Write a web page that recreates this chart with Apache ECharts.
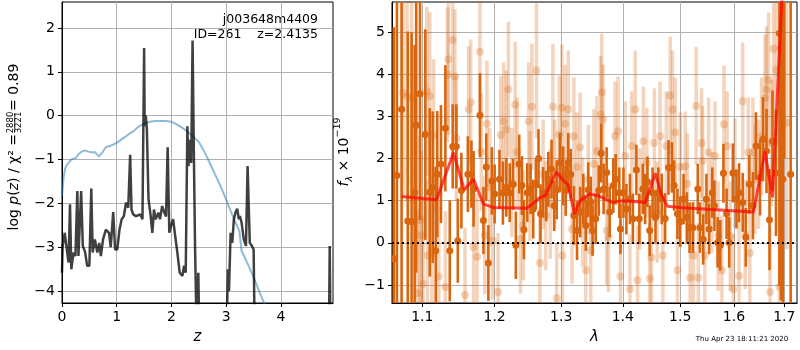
<!DOCTYPE html>
<html>
<head>
<meta charset="utf-8">
<script src="https://cdn.jsdelivr.net/npm/echarts@6/dist/echarts.min.js"></script>
<style>
html, body { margin: 0; padding: 0; background: #fff; }
#main { width: 800px; height: 350px; }
</style>
</head>
<body>
<div id="main"></div>
<script>
// left panel: redshift probability (black) and chi2 curve (blue)
var zBlack = [0.00,0.01,0.05,0.08,0.12,0.146,0.17,0.21,0.245,0.28,0.30,0.35,0.38,0.42,0.46,0.50,0.535,0.56,0.60,0.645,0.68,0.71,0.75,0.80,0.86,0.89,0.935,0.97,1.01,1.05,1.09,1.13,1.17,1.21,1.245,1.27,1.30,1.35,1.39,1.43,1.47,1.50,1.51,1.53,1.55,1.58,1.62,1.65,1.68,1.71,1.76,1.79,1.83,1.87,1.90,1.93,1.96,1.99,2.03,2.06,2.10,2.15,2.20,2.23,2.26,2.29,2.31,2.34,2.36,2.385,2.41,2.43,2.46,2.49,2.52,2.99,3.03,3.05,3.08,3.11,3.14,3.17,3.20,3.23,3.25,3.28,3.32,3.36,3.39,3.43,3.47,3.50,3.53,4.87,4.89,4.91];
var pBlack = [-3.58,-3.0,-2.67,-2.97,-3.35,-2.02,-3.5,-3.12,-3.2,-1.72,-3.2,-1.72,-2.97,-3.1,-3.42,-3.42,-1.66,-3.12,-2.82,-3.12,-2.9,-3.2,-2.82,-2.6,-2.67,-3.0,-2.2,-3.05,-3.05,-2.6,-2.36,-2.29,-1.98,-2.1,-0.89,-2.14,-2.25,-2.29,-2.27,-2.25,-2.36,1.54,-0.24,0.0,-0.3,-1.9,-2.29,-2.67,-2.14,-2.36,-2.21,-2.36,-2.06,-2.21,-2.3,-0.72,-2.67,-2.52,-2.36,-2.67,-3.05,-3.58,-3.65,-3.42,-3.58,-0.24,-1.15,-0.55,-1.08,1.71,-1.0,-2.97,-5.0,-3.58,-6.0,-6.0,-3.5,-4.0,-2.67,-2.9,-2.36,-2.2,-2.12,-2.36,-2.29,-2.44,-2.82,-2.97,-1.15,-2.9,-2.97,-3.05,-6.0,-6.0,-2.97,-6.0];
var zBlue = [0.00,0.03,0.06,0.09,0.15,0.20,0.25,0.30,0.36,0.42,0.48,0.55,0.60,0.67,0.73,0.80,0.90,1.00,1.10,1.20,1.30,1.40,1.50,1.60,1.70,1.80,1.90,2.00,2.10,2.20,2.30,2.40,2.50,2.60,2.70,2.80,2.90,3.00,3.07,3.15,3.24,3.28,3.40,3.49,3.61,3.72];
var pBlue = [-1.83,-1.4,-1.2,-1.12,-1.03,-0.98,-0.97,-0.88,-0.82,-0.79,-0.82,-0.84,-0.83,-0.93,-0.85,-0.72,-0.68,-0.62,-0.53,-0.44,-0.36,-0.25,-0.18,-0.14,-0.12,-0.12,-0.12,-0.14,-0.2,-0.28,-0.37,-0.48,-0.6,-0.82,-1.08,-1.35,-1.62,-1.92,-2.14,-2.38,-2.63,-3.08,-3.4,-3.65,-4.03,-4.35];
var zTicks = [0, 1, 2, 3, 4];
var pTicks = [-4, -3, -2, -1, 0, 1, 2];

// right panel: spectrum points [lambda, flux, error]
var darkPts = [
 [1.063,-0.38,5.5],[1.067,1.6,6],[1.073,3.17,5],[1.081,0.52,4.5],[1.086,0.5,4.5],[1.090,1.2,3.5],[1.092,2.79,3.5],
 [1.097,3.54,3],[1.104,2.57,2.5],[1.110,1.2,2.0],[1.114,1.32,1.8],[1.118,-0.19,2.0],[1.120,1.63,1.5],[1.125,1.87,1.4],
 [1.131,2.72,1.5],[1.137,-0.19,1.2],[1.141,2.29,1.0],[1.146,2.29,1.0],[1.148,0.05,1.0],[1.153,1.24,0.9],[1.162,1.63,0.9],
 [1.167,1.63,0.8],[1.170,1.28,0.9],[1.179,3.03,1.0],[1.184,0.53,0.8],[1.188,1.8,0.8],[1.191,-0.48,0.9],[1.196,1.47,0.8],
 [1.200,1.16,0.7],[1.207,1.51,0.7],[1.212,1.18,0.75],[1.217,1.32,0.7],[1.222,1.19,0.7],[1.227,1.39,0.6],[1.231,-0.06,0.8],
 [1.236,1.87,0.7],[1.240,1.36,0.7],[1.243,0.31,0.7],[1.248,1.19,0.7],[1.253,1.28,0.6],[1.257,0.8,0.7],[1.261,1.39,0.6],
 [1.265,2.0,0.7],[1.268,0.69,0.7],[1.272,1.2,0.6],[1.277,1.11,0.6],[1.280,1.51,0.65],[1.285,1.75,0.7],[1.289,0.88,0.6],
 [1.293,1.26,0.7],[1.298,1.91,0.7],[1.303,1.59,0.7],[1.307,1.24,0.6],[1.311,1.91,0.7],[1.315,1.63,0.6],[1.320,0.65,0.7],
 [1.325,0.29,0.7],[1.330,0.73,0.6],[1.335,1.04,0.6],[1.339,0.41,0.6],[1.343,1.26,0.65],[1.347,0.97,0.6],[1.350,0.29,0.6],
 [1.355,0.57,0.6],[1.360,1.24,0.6],[1.364,2.13,0.7],[1.368,1.28,0.6],[1.373,1.67,0.6],[1.378,0.73,0.6],[1.384,1.36,0.65],
 [1.388,1.51,0.6],[1.394,1.19,0.6],[1.396,0.33,0.6],[1.401,1.19,0.6],[1.406,0.8,0.6],[1.412,1.04,0.6],[1.417,0.57,0.6],
 [1.423,1.73,0.6],[1.428,0.57,0.6],[1.434,1.28,0.6],[1.438,1.04,0.6],[1.442,1.45,0.6],[1.446,0.29,0.6],[1.451,1.19,0.6],
 [1.456,0.6,0.6],[1.461,1.19,0.6],[1.467,1.04,0.6],[1.473,0.58,0.6],[1.479,1.79,0.65],[1.485,1.79,0.6],[1.489,1.36,0.6],
 [1.495,0.69,0.6],[1.500,0.5,0.6],[1.506,1.04,0.6],[1.512,0.6,0.6],[1.517,0.36,0.6],[1.523,0.36,0.6],[1.532,1.28,0.6],
 [1.536,0.36,0.6],[1.542,0.08,0.6],[1.548,1.04,0.6],[1.553,0.33,0.6],[1.559,1.19,0.6],[1.563,0.88,0.6],[1.569,0.01,0.6],
 [1.574,-0.06,0.6],[1.580,1.65,0.7],[1.586,0.69,0.6],[1.591,0.01,0.6],[1.598,1.66,0.7],[1.605,1.04,0.7],[1.610,1.19,0.7],
 [1.617,0.96,0.7],[1.623,0.13,0.7],[1.630,1.39,0.7],[1.637,0.88,0.8],[1.643,2.3,0.8],[1.651,1.55,0.9],[1.657,2.46,1.0],
 [1.664,2.18,1.0],[1.670,0.55,1.2],[1.676,2.42,1.2],[1.683,1.66,1.5],[1.690,4.98,6],[1.693,4.63,6],[1.697,1.51,6],
 [1.700,8.0,6],[1.713,1.63,6]
];
var lightPts = [
 [1.075,3.56,2.5],[1.080,3.48,2.5],[1.086,3.42,2.5],[1.094,-1.2,2],[1.097,0.54,2],[1.099,0.18,2],[1.101,-0.97,2],
 [1.106,3.6,2],[1.107,-0.3,1.8],[1.110,3.48,2],[1.113,-0.22,1.8],[1.115,2.56,1.8],[1.122,-0.8,1.8],[1.131,-1.05,1.8],
 [1.135,4.36,1.8],[1.134,3.99,1.6],[1.141,4.82,1.8],[1.144,3.95,1.6],[1.146,2.48,1.5],[1.158,-1.24,1.6],[1.163,3.17,1.5],
 [1.166,3.33,1.5],[1.170,-0.1,1.5],[1.175,-0.33,1.5],[1.179,4.54,1.6],[1.181,2.16,1.4],[1.186,0.18,1.4],[1.189,2.83,1.5],
 [1.193,1.32,1.4],[1.197,0.05,1.4],[1.205,-1.17,1.4],[1.209,2.56,1.4],[1.213,2.89,1.4],[1.217,2.69,1.4],[1.220,3.65,1.6],
 [1.225,1.43,1.3],[1.230,3.28,1.5],[1.233,2.15,1.3],[1.238,0.09,1.3],[1.242,0.41,1.3],[1.250,2.89,1.4],[1.252,1.35,1.3],
 [1.255,3.23,1.5],[1.262,4.09,1.6],[1.267,-0.48,1.3],[1.272,1.63,1.3],[1.276,0.65,1.3],[1.283,0.92,1.3],[1.287,3.23,1.5],
 [1.290,1.63,1.3],[1.293,-1.32,1.3],[1.297,2.57,1.4],[1.301,3.21,1.5],[1.302,-0.3,1.2],[1.306,2.83,1.4],[1.311,3.17,1.4],
 [1.317,0.33,1.3],[1.320,2.53,1.4],[1.325,1.8,1.3],[1.330,2.27,1.3],[1.334,0.73,1.3],[1.339,-0.65,1.3],[1.343,1.5,1.3],
 [1.347,-0.18,1.3],[1.352,1.87,1.3],[1.357,2.18,1.3],[1.363,3.04,1.4],[1.365,3.57,1.4],[1.367,2.93,1.3],[1.373,0.29,1.3],
 [1.376,0.13,1.3],[1.387,2.53,1.3],[1.392,2.65,1.3],[1.396,-0.8,1.3],[1.404,2.06,1.3],[1.412,-1.1,1.3],[1.415,2.3,1.3],
 [1.421,3.17,1.4],[1.425,-0.89,1.3],[1.429,1.04,1.2],[1.435,2.41,1.3],[1.441,1.9,1.3],[1.446,-0.85,1.3],[1.449,-0.35,1.3],
 [1.454,2.37,1.3],[1.459,0.73,1.2],[1.464,2.53,1.3],[1.469,-0.3,1.3],[1.475,2.3,1.3],[1.482,3.5,1.4],[1.486,3.17,1.4],
 [1.491,2.62,1.3],[1.495,-0.65,1.3],[1.500,1.8,1.3],[1.509,1.82,1.3],[1.513,1.4,1.2],[1.518,-0.83,1.3],[1.524,-0.3,1.3],
 [1.529,3.25,1.4],[1.533,-0.83,1.3],[1.539,2.37,1.3],[1.541,1.95,1.3],[1.545,-0.3,1.3],[1.552,2.15,1.3],[1.558,0.95,1.2],
 [1.564,2.06,1.3],[1.570,0.16,1.3],[1.577,-0.65,1.3],[1.581,2.81,1.4],[1.587,2.3,1.3],[1.593,0.16,1.3],[1.599,-1.1,1.3],
 [1.602,1.66,1.3],[1.610,-0.78,1.3],[1.617,3.36,1.4],[1.622,0.2,1.3],[1.628,2.15,1.3],[1.631,-0.24,1.3],[1.637,2.15,1.3],
 [1.641,1.51,1.3],[1.648,1.63,1.3],[1.654,2.53,1.4],[1.661,3.44,1.5],[1.664,3.64,1.5],[1.668,3.87,1.6],[1.671,-1.17,1.5],
 [1.674,2.37,1.5],[1.678,4.61,1.8],[1.684,4.11,1.8],[1.690,-1.05,2],[1.705,2.85,3]
];
// best-fit model [lambda, flux]
var modelPts = [
 [1.073,1.10],[1.119,1.02],[1.142,2.14],[1.157,1.26],[1.170,1.51],[1.184,0.92],[1.198,0.84],[1.247,0.82],[1.256,0.92],
 [1.267,1.07],[1.276,1.13],[1.292,1.68],[1.304,1.47],[1.311,1.37],[1.321,0.69],[1.330,1.0],[1.345,1.16],[1.359,1.12],
 [1.382,0.96],[1.399,1.0],[1.420,0.98],[1.438,0.96],[1.456,1.65],[1.466,1.16],[1.477,0.87],[1.504,0.83],[1.638,0.73],
 [1.661,2.17],[1.676,1.08],[1.700,7.0]
];
var lamTicks = [1.1, 1.2, 1.3, 1.4, 1.5, 1.6, 1.7];
var fTicks = [-1, 0, 1, 2, 3, 4, 5];

var chart = echarts.init(document.getElementById('main'));
var font = 'DejaVu Sans';

function minus(v) { return v < 0 ? '\u2212' + Math.abs(v) : String(v); }

function axisBits(ticks, fmt) {
    return {
        axisLine: { show: true, onZero: false, lineStyle: { color: '#000', width: 1 } },
        axisTick: { show: true, length: 4, customValues: ticks, lineStyle: { color: '#000', width: 1 } },
        axisLabel: { customValues: ticks, formatter: fmt, color: '#000', fontSize: 14, fontFamily: font, margin: 7 },
        splitLine: { show: true, lineStyle: { color: '#b0b0b0', width: 1 } }
    };
}

function errorBars(color, alpha, lw, r) {
    return function (params, api) {
        var x = api.value(0), y = api.value(1), e = api.value(2);
        var lo = api.coord([x, y - e]);
        var hi = api.coord([x, y + e]);
        var c = api.coord([x, y]);
        return {
            type: 'group',
            children: [
                { type: 'line', shape: { x1: lo[0], y1: lo[1], x2: hi[0], y2: hi[1] },
                  style: { stroke: color, lineWidth: lw, opacity: alpha } },
                { type: 'circle', shape: { cx: c[0], cy: c[1], r: r },
                  style: { fill: color, opacity: alpha } }
            ]
        };
    };
}

function zip(a, b) { return a.map(function (v, i) { return [v, b[i]]; }); }
function toLn(rows) { return rows.map(function (p) { return [Math.log(p[0])].concat(p.slice(1)); }); }

var orange = '#d9650f';

var xLeft = axisBits(zTicks, function (v) { return String(v); });
var yLeft = axisBits(pTicks, minus);
var xRight = axisBits(lamTicks.map(Math.log), function (v) { return Math.exp(v).toFixed(1); });
var yRight = axisBits(fTicks, minus);

option = {
    animation: false,
    textStyle: { fontFamily: font },
    grid: [
        { left: 62, top: 2, width: 271, height: 302, show: true, borderColor: '#000', borderWidth: 1 },
        { left: 392, top: 2, width: 405, height: 302, show: true, borderColor: '#000', borderWidth: 1 }
    ],
    xAxis: [
        Object.assign({ gridIndex: 0, type: 'value', min: 0, max: 4.95,
            name: 'z', nameLocation: 'middle', nameGap: 27,
            nameTextStyle: { fontSize: 15, fontStyle: 'italic', color: '#000', fontFamily: font } }, xLeft),
        Object.assign({ gridIndex: 1, type: 'value', min: Math.log(1.0607), max: Math.log(1.7261),
            name: 'λ', nameLocation: 'middle', nameGap: 27,
            nameTextStyle: { fontSize: 15, fontStyle: 'italic', color: '#000', fontFamily: font } }, xRight)
    ],
    yAxis: [
        Object.assign({ gridIndex: 0, type: 'value', min: -4.27, max: 2.59 }, yLeft),
        Object.assign({ gridIndex: 1, type: 'value', min: -1.43, max: 5.72 }, yRight)
    ],
    graphic: [
        { type: 'text', right: 800 - 318, top: 13,
          style: { text: 'j003648m4409', fontSize: 12.5, fontFamily: font, fill: '#000', align: 'right' } },
        { type: 'text', right: 800 - 318, top: 28,
          style: { text: 'ID=261    z=2.4135', fontSize: 12.5, fontFamily: font, fill: '#000', align: 'right' } },
        { type: 'text', x: 742, y: 339,
          style: { text: 'Thu Apr 23 18:11:21 2020', fontSize: 7, fontFamily: font, fill: '#000', align: 'center', verticalAlign: 'middle' } },
        { type: 'group', x: 14, y: 154, rotation: Math.PI / 2, children: [
            { type: 'text', x: 20, y: 0,
              style: { text: '{n|log }{i|p}{n|(}{i|z}{n|) / χ² =}', align: 'right', verticalAlign: 'middle',
                rich: { n: { fontSize: 14, fontFamily: font, fill: '#000' },
                        i: { fontSize: 14, fontFamily: font, fontStyle: 'italic', fill: '#000' } } } },
            { type: 'text', x: 31.5, y: -3,
              style: { text: '2880', fontSize: 8.5, fontFamily: font, fill: '#000', align: 'center', verticalAlign: 'middle' } },
            { type: 'line', shape: { x1: 22, y1: 0.8, x2: 41, y2: 0.8 }, style: { stroke: '#000', lineWidth: 0.8 } },
            { type: 'text', x: 31.5, y: 5,
              style: { text: '3221', fontSize: 8.5, fontFamily: font, fill: '#000', align: 'center', verticalAlign: 'middle' } },
            { type: 'text', x: 43, y: 0,
              style: { text: '= 0.89', fontSize: 14, fontFamily: font, fill: '#000', align: 'left', verticalAlign: 'middle' } }
        ] },
        { type: 'text', x: 344, y: 152, rotation: Math.PI / 2,
          style: { text: '{i|f}{s|λ}{n| × 10}{p|−19}', align: 'center', verticalAlign: 'middle',
            rich: { i: { fontSize: 14, fontStyle: 'italic', fontFamily: font, fill: '#000', lineHeight: 22, verticalAlign: 'middle' },
                    s: { fontSize: 9.5, fontStyle: 'italic', fontFamily: font, fill: '#000', verticalAlign: 'bottom', lineHeight: 22 },
                    n: { fontSize: 14, fontFamily: font, fill: '#000', lineHeight: 22, verticalAlign: 'middle' },
                    p: { fontSize: 9.5, fontFamily: font, fill: '#000', verticalAlign: 'top', lineHeight: 22 } } } }
    ],
    series: [
        { type: 'line', xAxisIndex: 0, yAxisIndex: 0, data: zip(zBlue, pBlue), showSymbol: false,
          lineStyle: { color: 'rgba(31,119,180,0.5)', width: 2 }, z: 2 },
        { type: 'line', xAxisIndex: 0, yAxisIndex: 0, data: zip(zBlack, pBlack), showSymbol: false,
          lineStyle: { color: 'rgba(0,0,0,0.75)', width: 2.5 }, z: 3 },
        { type: 'custom', xAxisIndex: 1, yAxisIndex: 1, data: toLn(lightPts), clip: true,
          renderItem: errorBars(orange, 0.28, 3.5, 4), encode: { x: 0, y: 1 }, z: 2 },
        { type: 'custom', xAxisIndex: 1, yAxisIndex: 1, data: toLn(darkPts), clip: true,
          renderItem: errorBars(orange, 1, 2.6, 3.5), encode: { x: 0, y: 1 }, z: 3 },
        { type: 'line', xAxisIndex: 1, yAxisIndex: 1, data: toLn(modelPts), showSymbol: false,
          lineStyle: { color: 'rgba(255,0,0,0.7)', width: 3 }, z: 4,
          markLine: { symbol: 'none', silent: true, label: { show: false },
            lineStyle: { color: '#000', type: [2, 3], width: 1.8 }, data: [{ yAxis: 0 }] } }
    ]
};

chart.setOption(option);
</script>
</body>
</html>
